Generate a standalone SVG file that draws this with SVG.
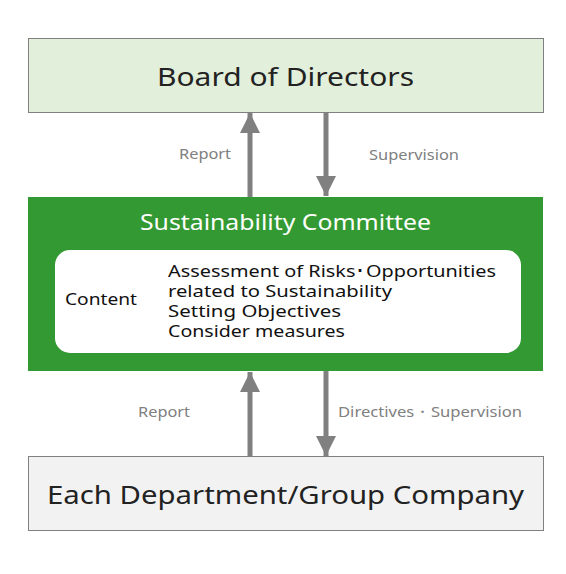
<svg xmlns="http://www.w3.org/2000/svg" width="566" height="574" viewBox="0 0 566 574">
<style>
text{font-family:"Noto Sans","DejaVu Sans",sans-serif}
.big{font-size:26px;fill:#222}
.lbl{font-size:15px;fill:#808080}
.ct{font-size:17px;fill:#111}
.ln{stroke:#808080;stroke-width:5}
</style>
<defs>
<marker id="ah" markerWidth="4" markerHeight="4" refX="4" refY="2" orient="auto" markerUnits="strokeWidth">
<path d="M0,0 L4,2 L0,4 Z" fill="#808080"/>
</marker>
</defs>
<rect width="566" height="574" fill="#fff"/>
<g id="board">
<rect x="28.5" y="38.5" width="515" height="74" fill="#e2efda" stroke="#808080"/>
<text class="big" x="157" y="86" textLength="257" lengthAdjust="spacingAndGlyphs">Board of Directors</text>
</g>
<g id="committee">
<rect x="28" y="197" width="515" height="174" fill="#339933"/>
<text x="140" y="230" font-size="22" fill="#fff" textLength="291" lengthAdjust="spacingAndGlyphs">Sustainability Committee</text>
<rect x="55" y="250" width="466" height="103" rx="15" fill="#fff"/>
<text class="ct" x="65" y="305" textLength="72" lengthAdjust="spacingAndGlyphs">Content</text>
<text class="ct" x="168" y="277" textLength="328" lengthAdjust="spacingAndGlyphs">Assessment of Risks･Opportunities</text>
<text class="ct" x="168" y="297" textLength="224" lengthAdjust="spacingAndGlyphs">related to Sustainability</text>
<text class="ct" x="168" y="317" textLength="173" lengthAdjust="spacingAndGlyphs">Setting Objectives</text>
<text class="ct" x="168" y="337" textLength="177" lengthAdjust="spacingAndGlyphs">Consider measures</text>
</g>
<g id="departments">
<rect x="28.5" y="456.5" width="515" height="74" fill="#f2f2f2" stroke="#808080"/>
<text class="big" x="47" y="504" textLength="477" lengthAdjust="spacingAndGlyphs">Each Department/Group Company</text>
</g>
<g id="connectors">
<line class="ln" x1="250" y1="197" x2="250" y2="113" marker-end="url(#ah)"/>
<line class="ln" x1="326" y1="113" x2="326" y2="196" marker-end="url(#ah)"/>
<line class="ln" x1="250" y1="456" x2="250" y2="372" marker-end="url(#ah)"/>
<line class="ln" x1="326" y1="371" x2="326" y2="456" marker-end="url(#ah)"/>
<text class="lbl" x="179" y="159" textLength="52" lengthAdjust="spacingAndGlyphs">Report</text>
<text class="lbl" x="369" y="160" textLength="90" lengthAdjust="spacingAndGlyphs">Supervision</text>
<text class="lbl" x="138" y="417" textLength="52" lengthAdjust="spacingAndGlyphs">Report</text>
<text class="lbl" x="338" y="417" textLength="184" lengthAdjust="spacingAndGlyphs">Directives・Supervision</text>
</g>
</svg>
